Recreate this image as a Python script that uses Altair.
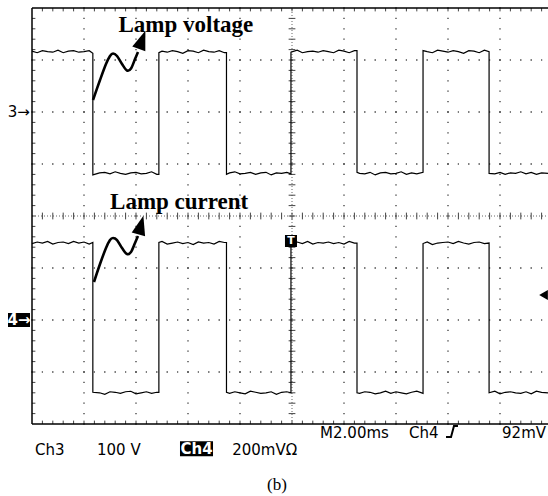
import altair as alt
import pandas as pd

# ---------------- data (screen divisions; centre of screen = 0,0) ----------------
edge_times = [1.17, 2.44, 3.74, 4.98, 6.25, 7.52, 8.79]   # switching instants
volt_high, volt_low = 3.16, 0.82                          # Ch3 levels
curr_high, curr_low = -0.52, -3.40                        # Ch4 levels

volt_noise = [0.01, -0.02, 0.02, 0.00, -0.01, 0.03, -0.02, 0.01, 0.02, -0.01,
              0.00, 0.02, -0.03, 0.01, 0.02, -0.01, 0.03, 0.00, -0.02, 0.01,
              0.02, -0.01, 0.00, 0.03, -0.02, 0.01, -0.01, 0.02, 0.00, -0.03,
              0.02, 0.01, -0.02, 0.03, 0.00, -0.01, 0.02, -0.02, 0.01, 0.03,
              -0.01, 0.00, 0.02, -0.02, 0.01, 0.02, -0.03, 0.01, 0.00, 0.02,
              -0.01, 0.03, -0.02, 0.00, 0.01, -0.01, 0.02, 0.00, -0.02, 0.03,
              0.01, -0.02, 0.02, 0.00, -0.01, 0.02, -0.03, 0.01, 0.02, -0.01,
              0.00, 0.03, -0.02, 0.01, -0.01, 0.02, 0.00, -0.02, 0.03, 0.01,
              -0.01, 0.02, 0.00, -0.03, 0.02, 0.01, -0.02, 0.03, 0.00, -0.01,
              0.02, -0.02, 0.01, 0.00, 0.03, -0.01, 0.02, -0.02, 0.01, 0.00]
curr_noise = [-0.01, 0.02, 0.00, 0.03, -0.02, 0.01, 0.02, -0.01, 0.03, 0.00,
              0.02, -0.02, 0.01, 0.00, -0.03, 0.02, 0.01, -0.01, 0.02, 0.03,
              -0.02, 0.00, 0.02, -0.01, 0.01, 0.03, -0.02, 0.00, 0.02, -0.01,
              0.01, -0.03, 0.02, 0.00, 0.01, -0.02, 0.03, 0.01, -0.01, 0.02,
              0.00, -0.02, 0.03, 0.01, -0.01, 0.00, 0.02, -0.03, 0.01, 0.02,
              0.00, 0.02, -0.01, 0.03, -0.02, 0.01, 0.00, 0.02, -0.01, 0.01,
              -0.02, 0.03, 0.00, -0.01, 0.02, 0.01, -0.02, 0.00, 0.03, -0.01,
              0.02, 0.00, -0.02, 0.01, 0.03, -0.01, 0.02, -0.03, 0.00, 0.01,
              0.02, -0.01, 0.03, 0.00, -0.02, 0.01, 0.02, -0.01, 0.00, 0.03,
              -0.02, 0.01, 0.02, 0.00, -0.01, 0.02, -0.02, 0.03, 0.01, 0.00]

volt_arrow_x = [1.173, 1.308, 1.423, 1.500, 1.558, 1.635, 1.731, 1.827, 1.904, 1.981, 2.038]
volt_arrow_y = [2.231, 2.615, 2.923, 3.077, 3.125, 3.077, 2.923, 2.798, 2.837, 3.019, 3.154]
curr_arrow_x = [1.192, 1.308, 1.423, 1.500, 1.558, 1.635, 1.731, 1.827, 1.904, 1.981, 2.038]
curr_arrow_y = [-1.269, -0.923, -0.615, -0.462, -0.423, -0.462, -0.615, -0.731, -0.692, -0.519, -0.385]
head_x = [2.117, 2.094]
head_y = [3.387, -0.175]
head_angle = [20, 15]

annot_text = ["Lamp voltage", "Lamp current"]
annot_x = [2.96, 2.83]
annot_y = [3.54, 0.14]

bottom_text = ["Ch3", "100 V", "200mVΩ", "M2.00ms", "Ch4", "92mV"]
bottom_x = [0.06, 1.25, 3.85, 5.54, 7.25, 9.04]
bottom_y = [-4.60, -4.60, -4.60, -4.27, -4.27, -4.27]

# ---------------- geometry ----------------
PX = 52.0                 # pixels per division
X_MAX = 516 / PX
W, H = 516, 416

xs = alt.Scale(domain=[0, X_MAX], nice=False, zero=False)
ys = alt.Scale(domain=[-4, 4], nice=False, zero=False)


def X(f="x"):
    return alt.X(f"{f}:Q", scale=xs, axis=None)


def Y(f="y"):
    return alt.Y(f"{f}:Q", scale=ys, axis=None)


def trace(hi, lo, noise, name):
    bounds = [0.0] + edge_times + [X_MAX]
    pts = []

    def nz(x):
        return noise[min(int(round(x * 10)), len(noise) - 1)]

    for i in range(len(bounds) - 1):
        a, b = bounds[i], bounds[i + 1]
        lvl = hi if i % 2 == 0 else lo
        pts.append((a, lvl + nz(a)))
        k = int(a * 10) + 1
        while k / 10 < b - 0.03:
            if k / 10 > a + 0.03:
                pts.append((k / 10, lvl + noise[min(k, len(noise) - 1)]))
            k += 1
        pts.append((b, lvl + nz(b)))
    return pd.DataFrame({"x": [p[0] for p in pts], "y": [p[1] for p in pts],
                         "o": list(range(len(pts))), "s": name})


volt_df = trace(volt_high, volt_low, volt_noise, "v")
curr_df = trace(curr_high, curr_low, curr_noise, "i")

traces = alt.Chart(pd.concat([volt_df, curr_df])).mark_line(
    color="black", strokeWidth=1.2).encode(
    x=X(), y=Y(), order="o:Q", detail="s:N")

# ---------------- graticule ----------------
steps_x = [round(0.2 * k, 2) for k in range(0, 50)]
steps_y = [round(-4 + 0.2 * k, 2) for k in range(0, 41)]
dots = [(gx, sy) for gx in [1, 2, 3, 4, 6, 7, 8, 9] for sy in steps_y] + \
       [(sx, gy) for gy in [-3, -2, -1, 1, 2, 3] for sx in steps_x]
dots_df = pd.DataFrame({"x": [d[0] for d in dots], "y": [d[1] for d in dots]})
grid_dots = alt.Chart(dots_df).mark_square(size=1.6, color="#333", opacity=1).encode(x=X(), y=Y())

t = 0.065
ticks = []
for sx in steps_x[1:]:
    ticks.append((sx, sx, 4, 4 - t))
    ticks.append((sx, sx, -4, -4 + t))
    ticks.append((sx, sx, -t, t))
for sy in steps_y[1:-1]:
    ticks.append((0, t, sy, sy))
    ticks.append((5 - t, 5 + t, sy, sy))
ticks_df = pd.DataFrame(ticks, columns=["x", "x2", "y", "y2"])
tick_marks = alt.Chart(ticks_df).mark_rule(color="#444", strokeWidth=1).encode(
    x=X(), x2="x2:Q", y=Y(), y2="y2:Q")

centre_df = pd.DataFrame({"x": [0, 5], "x2": [X_MAX, 5], "y": [0, -4], "y2": [0, 4]})
centre = alt.Chart(centre_df).mark_rule(color="#666", strokeWidth=1, strokeDash=[1, 2]).encode(
    x=X(), x2="x2:Q", y=Y(), y2="y2:Q")

frame_df = pd.DataFrame({"x": [0, 0, 0], "x2": [0, X_MAX, X_MAX], "y": [-4, 4, -4], "y2": [4, 4, -4]})
frame = alt.Chart(frame_df).mark_rule(color="black", strokeWidth=1.5).encode(
    x=X(), x2="x2:Q", y=Y(), y2="y2:Q")

# ---------------- annotations ----------------
arrows_df = pd.DataFrame({
    "x": volt_arrow_x + curr_arrow_x, "y": volt_arrow_y + curr_arrow_y,
    "o": list(range(len(volt_arrow_x))) * 2,
    "s": ["v"] * len(volt_arrow_x) + ["i"] * len(curr_arrow_x)})
arrows = alt.Chart(arrows_df).mark_line(color="black", strokeWidth=2.6, interpolate="cardinal").encode(
    x=X(), y=Y(), order="o:Q", detail="s:N")
heads = alt.Chart(pd.DataFrame({"x": head_x, "y": head_y, "a": head_angle})).mark_point(
    shape="M0,-1L-0.72,1L0.72,1Z", size=370, filled=True, color="black", opacity=1).encode(
    x=X(), y=Y(), angle=alt.Angle("a:Q", scale=None))

annots = alt.Chart(pd.DataFrame({"t": annot_text, "x": annot_x, "y": annot_y})).mark_text(
    font="Liberation Serif", fontWeight="bold", fontSize=23, align="center", baseline="alphabetic",
    color="black").encode(x=X(), y=Y(), text="t:N")

bottom = alt.Chart(pd.DataFrame({"t": bottom_text, "x": bottom_x, "y": bottom_y})).mark_text(
    font="DejaVu Sans", fontSize=15, align="left", baseline="alphabetic", color="black").encode(
    x=X(), y=Y(), text="t:N")

boxes_df = pd.DataFrame({"x": [2.846, -0.462, 4.865], "x2": [3.481, -0.038, 5.096],
                         "y": [-4.33, -1.865, -0.365], "y2": [-4.62, -2.135, -0.596]})
boxes = alt.Chart(boxes_df).mark_rect(color="black").encode(x=X(), x2="x2:Q", y=Y(), y2="y2:Q")

white_df = pd.DataFrame({"t": ["Ch4", "4→", "T"], "x": [3.165, -0.25, 4.98],
                         "y": [-4.475, -2.0, -0.48], "fs": [15, 15, 11]})
white_txt = alt.Chart(white_df).mark_text(
    font="DejaVu Sans", fontWeight="bold", align="center", baseline="middle", color="white").encode(
    x=X(), y=Y(), text="t:N", size=alt.Size("fs:Q", scale=None))

ch3 = alt.Chart(pd.DataFrame({"t": ["3→"], "x": [-0.04], "y": [2.0]})).mark_text(
    font="DejaVu Sans", fontSize=15, align="right", baseline="middle", color="black").encode(
    x=X(), y=Y(), text="t:N")

slope_df = pd.DataFrame({"x": [7.962, 8.058, 8.115, 8.192], "y": [-4.25, -4.25, -4.04, -4.04],
                         "o": [0, 1, 2, 3]})
slope = alt.Chart(slope_df).mark_line(color="black", strokeWidth=2).encode(x=X(), y=Y(), order="o:Q")

trig = alt.Chart(pd.DataFrame({"x": [9.837], "y": [-1.519]})).mark_point(
    shape="triangle-left", size=100, filled=True, color="black", opacity=1).encode(x=X(), y=Y())

caption = alt.Chart(pd.DataFrame({"t": ["(b)"], "x": [4.712], "y": [-5.17]})).mark_text(
    font="Liberation Serif", fontSize=17, align="center", baseline="middle", color="black").encode(
    x=X(), y=Y(), text="t:N")

chart = alt.layer(
    grid_dots, centre, tick_marks, frame, traces, arrows, heads, annots,
    boxes, white_txt, ch3, bottom, slope, trig, caption
).properties(
    width=W, height=H,
    padding={"left": 32, "top": 8, "right": 0, "bottom": 72},
    autosize=alt.AutoSizeParams(type="none"),
    background="white",
).configure_view(stroke=None)

chart.save("out.html", embed_options={"renderer": "svg", "actions": False})
